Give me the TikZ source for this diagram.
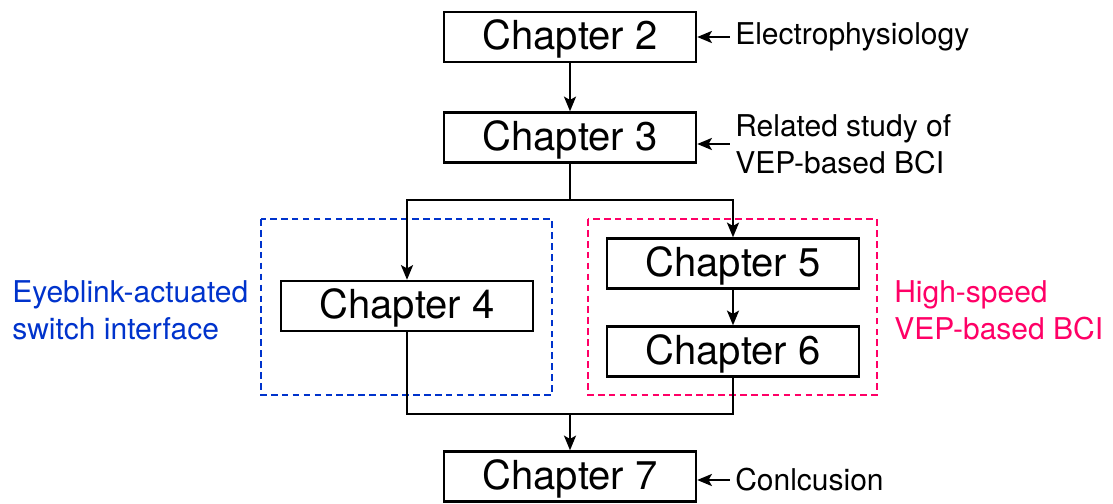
\documentclass[tikz,border=0pt]{standalone}
\usepackage{fontspec}
\setmainfont{TeX Gyre Heros}
\usetikzlibrary{arrows.meta}
\definecolor{grpblue}{RGB}{0,51,204}
\definecolor{grppink}{RGB}{255,0,102}
\tikzset{
  chapbox/.style={draw, line width=1.8pt, minimum width=189pt, minimum height=37.5pt, inner sep=0pt, text depth=3pt, font=\fontsize{30}{36}\selectfont},
  sidetext/.style={anchor=west, align=left, inner sep=0pt, font=\fontsize{22.5}{27.5}\selectfont},
  arr/.style={line width=1.8pt, -{Stealth[length=11pt,width=9pt,inset=2.5pt]}},
  conn/.style={line width=1.8pt},
  grpframe/.style={line width=2pt, dash pattern=on 5pt off 3.2pt},
}
\begin{document}
\begin{tikzpicture}[x=0.75pt,y=-0.75pt]
\useasboundingbox (0,0) rectangle (1113,503);
% group frames
\draw[grpframe, grpblue] (261,219) rectangle (552,395);
\draw[grpframe, grppink] (588,219) rectangle (877,395);
% chapters
\node[chapbox] (c2) at (570,37) {Chapter 2};
\node[chapbox] (c3) at (570,137.5) {Chapter 3};
\node[chapbox] (c4) at (407,306) {Chapter 4};
\node[chapbox] (c5) at (733,263.5) {Chapter 5};
\node[chapbox] (c6) at (733,351.5) {Chapter 6};
\node[chapbox] (c7) at (570,476.5) {Chapter 7};
% side texts
\node[sidetext] (t2) at (735,37) {Electrophysiology};
\node[sidetext] (t3) at (735,144) {Related study of\\VEP-based BCI};
\node[sidetext] (t7) at (735,480) {Conlcusion};
\node[sidetext, text=grpblue] (gl) at (12,310) {Eyeblink-actuated\\switch interface};
\node[sidetext, text=grppink] (gr) at (894,310) {High-speed\\VEP-based BCI};
% coordinates
\coordinate (split) at (570,200);
\coordinate (merge) at (570,414);
% connectors
\draw[arr] (c2.south) -- (c3.north);
\draw[conn] (c3.south) -- (split);
\draw[arr] (split) -| (c4.north);
\draw[arr] (split) -| (c5.north);
\draw[arr] (c5.south) -- (c6.north);
\draw[conn] (c4.south) |- (merge);
\draw[conn] (c6.south) |- (merge);
\draw[arr] (merge) -- (c7.north);
% side arrows
\draw[arr] ([xshift=-4pt]t2.west) -- (t2.west -| c2.east);
\draw[arr] ([xshift=-4pt]t3.west) -- (t3.west -| c3.east);
\draw[arr] ([xshift=-4pt]t7.west) -- (t7.west -| c7.east);
\end{tikzpicture}
\end{document}
